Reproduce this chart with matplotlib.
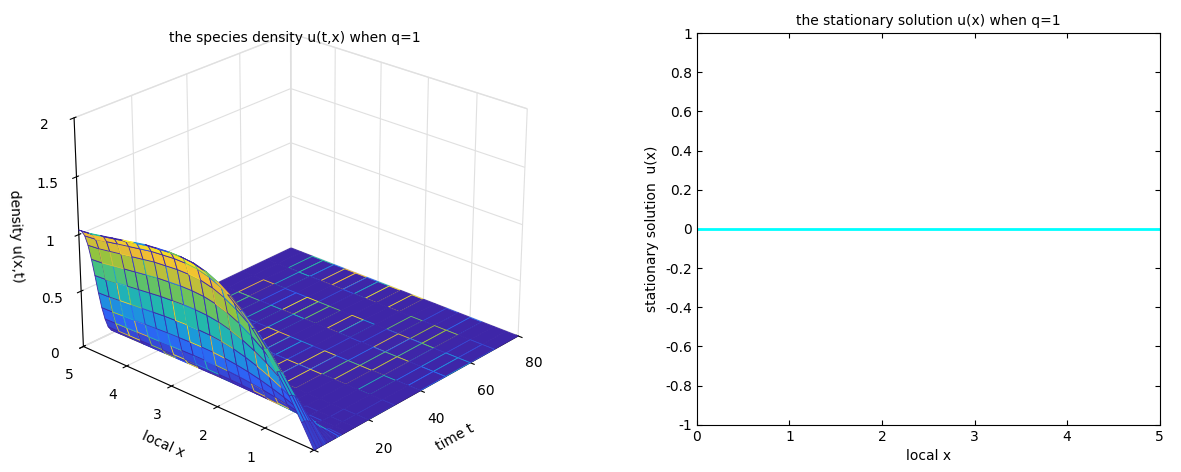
import numpy as np
import matplotlib
matplotlib.use("Agg")
from matplotlib import pyplot as plt
from matplotlib.colors import LinearSegmentedColormap

x_grid = [0.0, 0.25, 0.5, 0.75, 1.0, 1.25, 1.5, 1.75, 2.0, 2.25, 2.5, 2.75, 3.0,
          3.25, 3.5, 3.75, 4.0, 4.25, 4.5, 4.75, 5.0]
u0_profile = [0.0, 0.19, 0.37, 0.53, 0.68, 0.81, 0.92, 1.01, 1.08, 1.13, 1.16,
              1.17, 1.17, 1.16, 1.15, 1.13, 1.11, 1.09, 1.07, 1.05, 1.04]
# time samples and decay of amplitude
t_grid = [0, 1, 2, 3, 4, 5, 6, 7, 8, 9, 10, 12, 15, 20, 30, 40, 50, 60, 70, 80]
decay = [1.0, 0.98, 0.93, 0.84, 0.71, 0.56, 0.40, 0.26, 0.15, 0.07, 0.03,
         0.005, 0.0, 0.0, 0.0, 0.0, 0.0, 0.0, 0.0, 0.0]
stat_x = [0, 5]
stat_u = [0, 0]

parula = LinearSegmentedColormap.from_list(
    "parula", ["#3e26a8", "#2e5ff7", "#1a9fd8", "#25bfa0", "#8cc43f", "#f0ba35", "#f9fb15"])

fig = plt.figure(figsize=(11.81, 4.72), dpi=100)

ax = fig.add_axes([-0.02, 0.0, 0.54, 1.0], projection="3d")
T, X = np.meshgrid(t_grid, x_grid)
U = np.outer(u0_profile, decay)
surf = ax.plot_surface(T, X, U, cmap=parula, vmin=0, vmax=1.2, rstride=1, cstride=1,
                       linewidth=0.6, antialiased=True, shade=False)
fc = surf.get_facecolors()
surf.set_edgecolors(fc)
ax.set_xlim(0, 80)
ax.set_ylim(0, 5)
ax.set_zlim(0, 2)
ax.set_xticks([0, 20, 40, 60, 80])
ax.set_yticks([0, 1, 2, 3, 4, 5])
ax.set_zticks([0, 0.5, 1, 1.5, 2])
ax.set_zticklabels(["0", "0.5", "1", "1.5", "2"])
ax.set_xlabel("time t")
ax.set_ylabel("local x")
ax.set_zlabel("density u(x,t)")
ax.set_title("the species density u(t,x) when q=1", y=0.97, fontsize=10)
ax.view_init(elev=25, azim=-138)
ax.set_box_aspect((1, 1, 0.8), zoom=1.05)
for a in (ax.xaxis, ax.yaxis, ax.zaxis):
    a.pane.fill = False
    a.pane.set_edgecolor("0.8")
    a._axinfo["grid"]["color"] = "0.88"

ax2 = fig.add_axes([0.59, 0.1, 0.392, 0.83])
ax2.plot(stat_x, stat_u, color="cyan", linewidth=2)
ax2.set_xlim(0, 5)
ax2.set_ylim(-1, 1)
ax2.set_yticks(np.arange(-1, 1.01, 0.2))
ax2.set_yticklabels(["-1", "-0.8", "-0.6", "-0.4", "-0.2", "0", "0.2", "0.4", "0.6", "0.8", "1"])
ax2.set_xlabel("local x")
ax2.set_ylabel("stationary solution  u(x)")
ax2.set_title("the stationary solution u(x) when q=1", fontsize=10)
ax2.tick_params(direction="in", top=True, right=True)

fig.savefig("out.png", dpi=100)
